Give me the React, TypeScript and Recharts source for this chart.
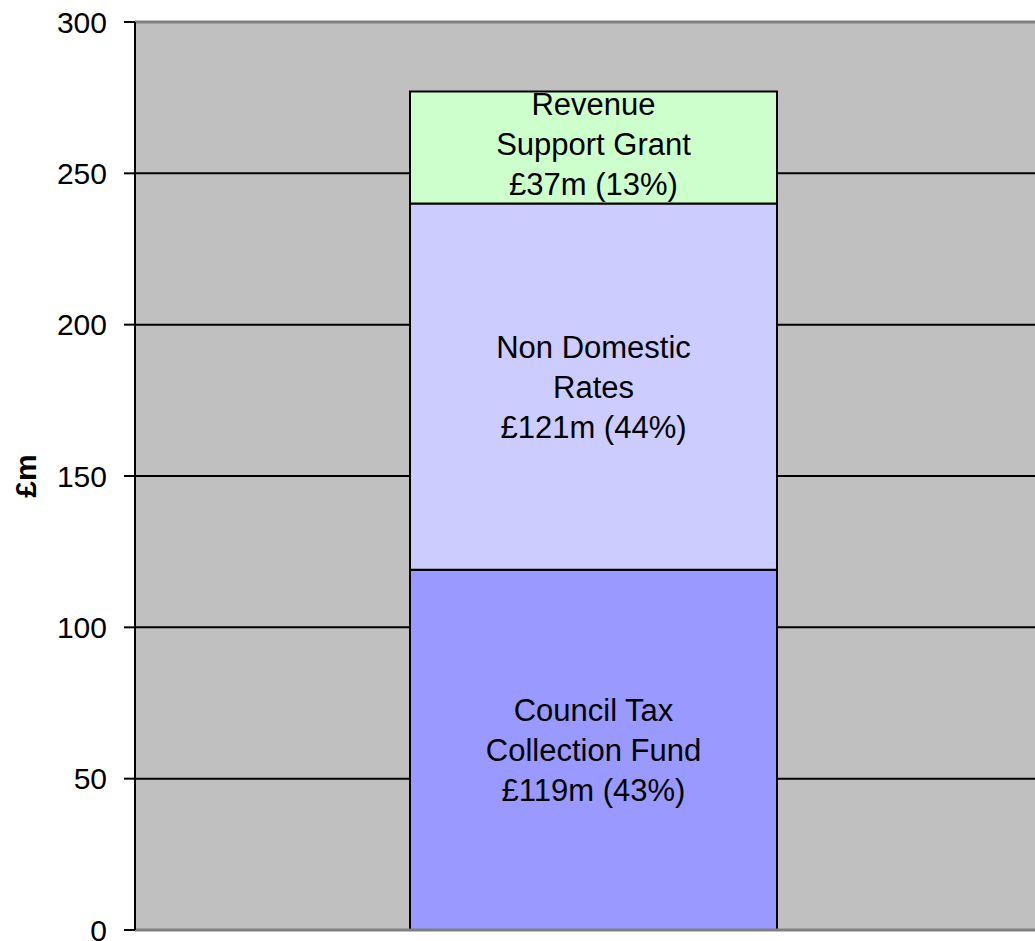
import React from "react";
import { BarChart, Bar, XAxis, YAxis, CartesianGrid, ReferenceLine, LabelList, Label } from "recharts";

const categories = ["Funding"];
const councilTax = [119];
const nonDomestic = [121];
const revenueSupport = [37];
const yTicks = [0, 50, 100, 150, 200, 250, 300];

const councilTaxLabel = ["Council Tax", "Collection Fund", "£119m (43%)"];
const nonDomesticLabel = ["Non Domestic", "Rates", "£121m (44%)"];
const revenueSupportLabel = ["Revenue", "Support Grant", "£37m (13%)"];

const data = categories.map((c, i) => ({
  name: c,
  councilTax: councilTax[i],
  nonDomestic: nonDomestic[i],
  revenueSupport: revenueSupport[i],
}));

const FONT = "Arial, 'Liberation Sans', sans-serif";
const FS = 30;
const LABEL_FS = 31;

const makeLabel = (lines: string[], offset: number) => (props: any) => {
  const { x, y, width, height } = props;
  const cx = Number(x) + Number(width) / 2;
  const cy = Number(y) + Number(height) / 2 + offset;
  const lh = 40;
  return (
    <text x={cx} y={cy} textAnchor="middle" fontFamily={FONT} fontSize={LABEL_FS} fill="#000">
      {lines.map((l, i) => (
        <tspan key={i} x={cx} y={cy + (i - 1) * lh} dy="0.35em">
          {l}
        </tspan>
      ))}
    </text>
  );
};

const axisTitle = (props: any) => {
  const vb = props.viewBox || {};
  const cy = Number(vb.y) + Number(vb.height) / 2;
  const cx = 25;
  return (
    <text
      x={cx}
      y={cy}
      transform={`rotate(-90, ${cx}, ${cy})`}
      textAnchor="middle"
      dominantBaseline="central"
      fontFamily={FONT}
      fontSize={FS}
      fontWeight="bold"
      fill="#000"
    >
      £m
    </text>
  );
};

export default function App() {
  return (
    <div style={{ position: "absolute", left: 0, top: 0, width: 1035, height: 941, background: "#fff" }}>
      <BarChart
        width={1035}
        height={941}
        data={data}
        margin={{ top: 22, right: 0, bottom: 11, left: 0 }}
        barSize={367}
      >
        <CartesianGrid vertical={false} stroke="#000" strokeWidth={2} fill="#C0C0C0" strokeOpacity={1} />
        <XAxis dataKey="name" hide padding={{ left: 17, right: 0 }} />
        <YAxis
          width={135}
          domain={[0, 300]}
          ticks={yTicks}
          interval={0}
          axisLine={{ stroke: "#000", strokeWidth: 2 }}
          tickLine={{ stroke: "#000", strokeWidth: 2 }}
          tickSize={11}
          tickMargin={17}
          tick={{ fill: "#000", fontSize: FS, fontFamily: FONT }}
        >
          <Label content={axisTitle} />
        </YAxis>
        <ReferenceLine y={300} stroke="#808080" strokeWidth={3} />
        <ReferenceLine y={0} stroke="#808080" strokeWidth={3} />
        <Bar dataKey="councilTax" stackId="a" fill="#9999FF" stroke="#000" strokeWidth={2} isAnimationActive={false}>
          <LabelList content={makeLabel(councilTaxLabel, 0)} />
        </Bar>
        <Bar dataKey="nonDomestic" stackId="a" fill="#CCCCFF" stroke="#000" strokeWidth={2} isAnimationActive={false}>
          <LabelList content={makeLabel(nonDomesticLabel, 0)} />
        </Bar>
        <Bar dataKey="revenueSupport" stackId="a" fill="#CCFFCC" stroke="#000" strokeWidth={2} isAnimationActive={false}>
          <LabelList content={makeLabel(revenueSupportLabel, -3)} />
        </Bar>
      </BarChart>
    </div>
  );
}
